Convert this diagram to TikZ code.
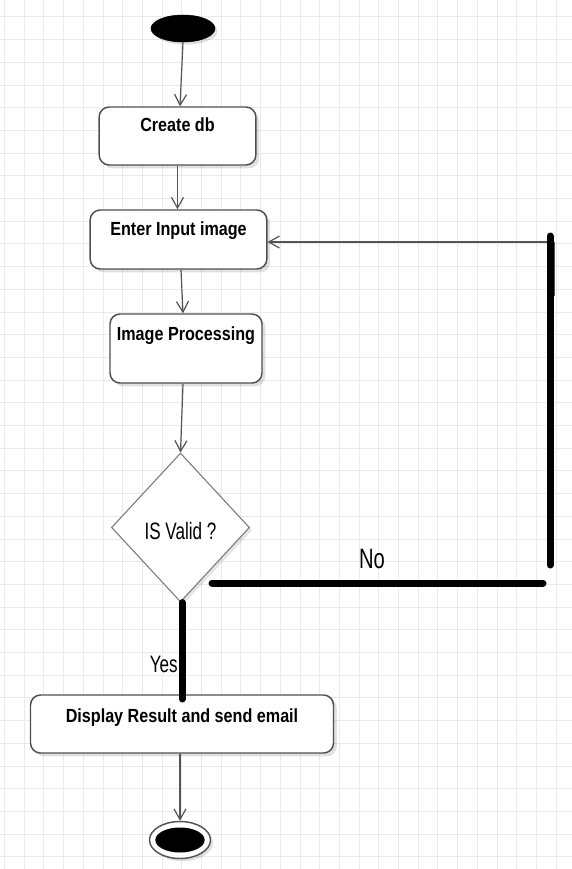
\documentclass[tikz,border=0pt]{standalone}
\usepackage{fontspec}
\setmainfont{Liberation Sans}
\newfontfamily\boldnarrow[FakeStretch=0.85]{Liberation Sans}
\newfontfamily\regnarrow[FakeStretch=0.72]{Liberation Sans}
\usetikzlibrary{shapes.geometric,arrows.meta,shadows,calc}
\definecolor{gridc}{HTML}{EAEAEA}
\definecolor{boxline}{HTML}{4F4F4F}
\definecolor{arrowc}{HTML}{555555}
\definecolor{diamc}{HTML}{7A7A7A}
\tikzset{
  gridline/.style={draw=gridc, line width=0.75pt},
  actbox/.style={draw=boxline, line width=1.1pt, fill=white, rounded corners=7.5pt,
    inner xsep=0pt, inner ysep=0pt, minimum height=0pt, align=center,
    font=\boldnarrow\bfseries\fontsize{14.25pt}{17pt}\selectfont,
    drop shadow={shadow xshift=2.5pt, shadow yshift=-2.5pt, opacity=0.12, fill=black}},
  flow/.style={draw=arrowc, line width=0.9pt, -{Straight Barb[length=8pt,width=9pt,line width=0.9pt]}},
  heavy/.style={draw=black, line width=5.25pt, line cap=round},
  bigtext/.style={font=\regnarrow\fontsize{17.8pt}{20pt}\selectfont, inner sep=0pt},
}
\begin{document}
\begin{tikzpicture}[x=0.75pt, y=-0.75pt]
\useasboundingbox (0,0) rectangle (572,869);
\fill[white] (0,0) rectangle (572,869);
% grid
\foreach \i in {0,...,28} \draw[gridline] ({4.5+19.7*\i},0) -- ++(0,869);
\foreach \j in {0,...,37} \draw[gridline] (0,{16.9+22.7*\j}) -- ++(572,0);

% start
\node[ellipse, fill=black, draw=black, inner sep=0pt, minimum width=48pt, minimum height=20.25pt,
  drop shadow={shadow xshift=2pt, shadow yshift=-2pt, opacity=0.12, fill=black}] (start) at (183,28.5) {};

% activities
\node[actbox, minimum width=117.5pt, text height=18pt, text depth=25.5pt] (create) at (177.5,136) {Create db};
\node[actbox, minimum width=132.5pt, text height=19pt, text depth=25.25pt] (enter) at (178.5,239.5) {Enter Input image};
\node[actbox, minimum width=114pt, text height=19.5pt, text depth=32.25pt] (image) at (186,348.5) {Image Processing};
\node[actbox, minimum width=227.25pt, text height=20.25pt, text depth=23.25pt] (display) at (182,724) {Display Result and send email};

% decision
\node[diamond, draw=diamc, line width=0.8pt, fill=white, inner sep=0pt,
  minimum width=103.5pt, minimum height=111.75pt, text height=18pt, text depth=0pt,
  font=\regnarrow\fontsize{17.8pt}{20pt}\selectfont,
  drop shadow={shadow xshift=2pt, shadow yshift=-2pt, opacity=0.1, fill=black}] (valid) at (180.5,527.5) {IS Valid ?};

% end
\node[ellipse, draw=arrowc, line width=1.1pt, fill=white, inner sep=0pt, minimum width=45.75pt, minimum height=27.75pt,
  drop shadow={shadow xshift=2pt, shadow yshift=-2pt, opacity=0.12, fill=black}] (end) at (180,840) {};
\node[ellipse, fill=black, inner sep=0pt, minimum width=37pt, minimum height=18.75pt] (endin) at (end.center) {};

% flow arrows
\draw[flow] (start.south) -- (create.north -| 180,0);
\draw[flow] (create.south) -- (enter.north -| create.south);
\draw[flow] ($(enter.south)+(2.5,0)$) -- (image.north -| 183,0);
\draw[flow] (image.south -| 183,0) -- (valid.north);
\draw[flow] (display.south -| 180,0) -- (end.north);

% yes branch
\coordinate (yesend) at (182,699);
\draw[heavy] (valid.south -| 182,0) -- (yesend);
\node[bigtext, anchor=base east] (yes) at (178,672) {Yes};

% no branch
\coordinate (noA) at (212,583);
\coordinate (noB) at (543,583);
\coordinate (noC) at (550,565);
\coordinate (noD) at (550,236);
\coordinate (noT) at (554,296);
\coordinate (noU) at (554,242);
\draw[draw=arrowc, line width=0.9pt] (noT) -- (noU);
\draw[flow] (noU) -- (noU -| enter.east);
\draw[heavy] (noA) -- (noB);
\draw[heavy] (noC) -- (noD);
\node[font=\regnarrow\fontsize{21pt}{24pt}\selectfont, inner sep=0pt, anchor=base] (no) at (372,568) {No};
\end{tikzpicture}
\end{document}
